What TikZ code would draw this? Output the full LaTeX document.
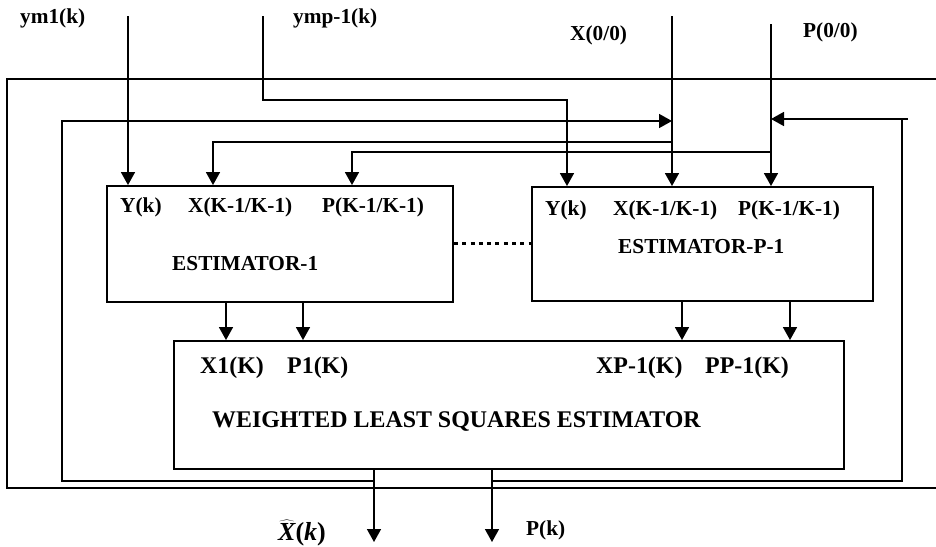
\documentclass[tikz,border=0pt]{standalone}
\usepackage{fontspec}
\setmainfont{Liberation Serif}
\usetikzlibrary{arrows.meta}
\newcommand\hatlabel{$\widehat{\mbox{\bfseries\itshape X}}$\textbf{(\textit{k})}}
\begin{document}
\begin{tikzpicture}[x=1pt,y=-1pt,
  ln/.style={line width=1.6pt},
  blk/.style={draw,line width=1.9pt,inner sep=0pt},
  arr/.style={ln,-{Triangle[width=14pt,length=13pt]}},
  lab/.style={inner sep=0pt,anchor=base west,font=\bfseries\fontsize{21.3}{24}\selectfont},
  wlab/.style={inner sep=0pt,anchor=base west,font=\bfseries\fontsize{23.9}{26}\selectfont},
  hlab/.style={inner sep=0pt,anchor=base west,font=\bfseries\fontsize{26}{28}\selectfont},
  dots/.style={line width=3pt,dash pattern=on 4pt off 4.3pt}]
\useasboundingbox (0,0) rectangle (936,546);
% blocks
\node[blk,minimum width=346pt,minimum height=116pt] (E1) at (280,244) {};
\node[blk,minimum width=341pt,minimum height=114pt] (EP) at (702.5,244) {};
\node[blk,minimum width=670pt,minimum height=128pt] (W) at (509,405) {};
% texts
\node[lab] (tym1) at (20,23) {ym1(k)};
\node[lab] (tymp) at (293,23) {ymp-1(k)};
\node[lab] (tx00) at (570,40) {X(0/0)};
\node[lab] (tp00) at (803,37) {P(0/0)};
\node[lab] (e1y) at (120,212) {Y(k)};
\node[lab] (e1x) at (188,212) {X(K-1/K-1)};
\node[lab] (e1p) at (322,212) {P(K-1/K-1)};
\node[lab] (e1n) at (172,270) {ESTIMATOR-1};
\node[lab] (epy) at (545,215) {Y(k)};
\node[lab] (epx) at (613,215) {X(K-1/K-1)};
\node[lab] (epp) at (738,215) {P(K-1/K-1)};
\node[lab] (epn) at (618,253) {ESTIMATOR-P-1};
\node[wlab] (wx1) at (200,373) {X1(K)};
\node[wlab] (wp1) at (287,373) {P1(K)};
\node[wlab] (wxp) at (596,373) {XP-1(K)};
\node[wlab] (wpp) at (705,373) {PP-1(K)};
\node[wlab] (wn) at (212,427) {WEIGHTED LEAST SQUARES ESTIMATOR};
\node[hlab] (txh) at (278,540) {\hatlabel};
\node[lab] (tpk) at (526,535) {P(k)};
% coordinates
\coordinate (ym1s) at (128,16);
\coordinate (ymps) at (263,16);
\coordinate (ympb) at (567,100);
\coordinate (x0s) at (672,16);
\coordinate (p0s) at (771,24);
\coordinate (xbr) at (213,142);
\coordinate (pbr) at (352,152);
\coordinate (xout) at (374,542);
\coordinate (pout) at (492,542);
% inputs
\draw[arr] (ym1s) -- (ym1s |- E1.north);
\draw[arr] (ymps) |- (ympb) -- (ympb |- EP.north);
\draw[arr] (x0s) -- (x0s |- EP.north);
\draw[arr] (p0s) -- (p0s |- EP.north);
\draw[arr] (x0s |- xbr) -- (xbr) -- (xbr |- E1.north);
\draw[arr] (p0s |- pbr) -- (pbr) -- (pbr |- E1.north);
% dotted link
\draw[dots] (E1.east |- 0,243) -- (EP.west |- 0,243);
% to WLS
\draw[arr] (226,0 |- E1.south) -- (226,0 |- W.north);
\draw[arr] (303,0 |- E1.south) -- (303,0 |- W.north);
\draw[arr] (682,0 |- EP.south) -- (682,0 |- W.north);
\draw[arr] (790,0 |- EP.south) -- (790,0 |- W.north);
% outputs
\draw[arr] (xout |- W.south) -- (xout);
\draw[arr] (pout |- W.south) -- (pout);
% outer frame
\draw[ln] (936,79) -- (7,79) -- (7,488) -- (936,488);
% feedback X
\draw[arr] (xout |- 0,481) -- (62,481) -- (62,121) -- (x0s |- 0,121);
% feedback P
\draw[ln] (pout |- 0,481) -- (902,481) -- (902,119);
\draw[arr] (908,119) -- (p0s |- 0,119);
\end{tikzpicture}
\end{document}
